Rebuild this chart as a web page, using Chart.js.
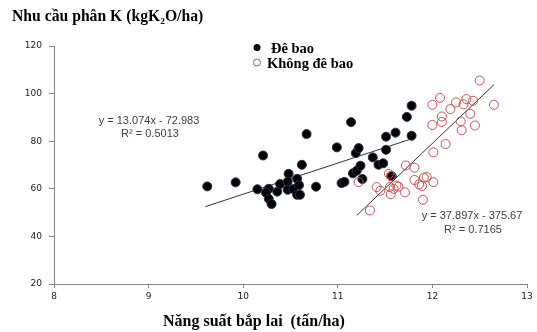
<!DOCTYPE html>
<html>
<head>
<meta charset="utf-8">
<script src="https://cdn.jsdelivr.net/npm/chart.js@4.4.0/dist/chart.umd.min.js"></script>
<style>
  html, body { margin: 0; padding: 0; background: #fff; }
</style>
</head>
<body>
<canvas id="chart" width="537" height="332"></canvas>
<script>
// Đê bao (filled black)
const deBaoX = [9.62, 9.92, 10.15, 10.21, 10.27, 10.24, 10.27, 10.30, 10.36, 10.39, 10.48, 10.47, 10.47, 10.53,
  10.57, 10.59, 10.57, 10.60, 10.62, 10.67, 10.77, 10.99, 11.04, 11.07, 11.14, 11.19, 11.22, 11.16, 11.20,
  11.24, 11.26, 11.37, 11.43, 11.48, 11.51, 11.51, 11.61, 11.57, 11.73, 11.78, 11.78];
const deBaoY = [61.0, 62.7, 59.8, 74.0, 60.0, 58.4, 55.8, 53.6, 58.8, 62.0, 66.3, 63.0, 59.6, 59.9,
  64.2, 61.5, 57.5, 57.5, 70.1, 83.0, 60.9, 77.4, 62.4, 62.9, 88.0, 75.0, 77.1, 66.5, 67.6,
  69.7, 64.1, 73.2, 70.1, 70.7, 81.9, 76.4, 83.6, 65.3, 90.2, 82.3, 94.9];

// Không đê bao (open red circles)
const khongX = [12.50, 12.00, 12.08, 12.25, 12.36, 12.33, 12.43, 12.65, 12.19, 12.10, 12.00, 12.10, 12.40,
  12.30, 12.45, 12.31, 12.14, 12.01, 11.72, 11.81, 11.54, 11.56, 11.22, 11.81, 11.91, 11.94, 11.86, 11.89,
  12.01, 11.41, 11.45, 11.56, 11.55, 11.59, 11.62, 11.64, 11.71, 11.90, 11.34];
const khongY = [105.5, 95.3, 98.2, 96.3, 97.7, 95.5, 97.0, 95.3, 93.5, 90.4, 86.8, 88.1, 91.5,
  88.3, 86.6, 84.6, 78.8, 75.3, 69.8, 68.9, 66.3, 65.4, 62.8, 63.7, 64.7, 64.9, 61.9, 61.2,
  62.8, 60.7, 59.2, 57.7, 60.7, 60.0, 61.3, 60.9, 58.5, 55.4, 50.9];

// trend line end points
const trendDeBaoX = [9.6, 11.78];
const trendDeBaoY = [52.5, 81.0];
const trendKhongX = [11.2, 12.65];
const trendKhongY = [48.8, 103.7];

const xTicks = [8, 9, 10, 11, 12, 13];
const yTicks = [20, 40, 60, 80, 100, 120];

const toPoints = (xs, ys) => xs.map((x, i) => ({ x: x, y: ys[i] }));

const textPlugin = {
  id: 'texts',
  afterDraw(chart) {
    const ctx = chart.ctx;
    ctx.save();
    ctx.fillStyle = '#000';
    ctx.textBaseline = 'alphabetic';
    ctx.textAlign = 'left';
    ctx.font = 'bold 15.7px "Liberation Serif"';
    ctx.fillText('Nhu cầu phân K (kgK₂O/ha)', 12, 21);
    ctx.font = 'bold 16px "Liberation Serif"';
    ctx.fillText('Năng suất bắp lai  (tấn/ha)', 163, 326);

    // legend
    ctx.font = 'bold 14.5px "Liberation Serif"';
    ctx.beginPath();
    ctx.arc(257, 47.5, 3.5, 0, Math.PI * 2);
    ctx.fill();
    ctx.fillText('Đê bao', 271, 52.5);
    ctx.beginPath();
    ctx.strokeStyle = '#c0504d';
    ctx.lineWidth = 1;
    ctx.arc(257, 62.5, 3.5, 0, Math.PI * 2);
    ctx.stroke();
    ctx.fillText('Không đê bao', 267, 67.5);

    // equations
    ctx.fillStyle = '#404040';
    ctx.font = '11px "Liberation Sans"';
    ctx.textAlign = 'center';
    ctx.textBaseline = 'middle';
    ctx.fillText('y = 13.074x - 72.983', 149, 120.5);
    ctx.fillText('R² = 0.5013', 150, 134);
    ctx.fillText('y = 37.897x - 375.67', 472, 216);
    ctx.fillText('R² = 0.7165', 473, 229.5);
    ctx.restore();
  }
};

new Chart(document.getElementById('chart'), {
  type: 'scatter',
  data: {
    datasets: [
      {
        label: 'Không đê bao',
        data: toPoints(khongX, khongY),
        pointRadius: 4.5,
        pointBackgroundColor: 'rgba(255,255,255,0)',
        pointBorderColor: '#c8504d',
        pointBorderWidth: 1,
        order: 0,
      },
      {
        label: 'Đê bao',
        data: toPoints(deBaoX, deBaoY),
        pointRadius: 4.5,
        pointBackgroundColor: '#000',
        pointBorderColor: '#22344d',
        pointBorderWidth: 1,
        order: 1,
      },
      {
        type: 'line',
        data: toPoints(trendDeBaoX, trendDeBaoY),
        borderColor: '#333',
        borderWidth: 1,
        pointRadius: 0,
        fill: false,
        order: 2,
      },
      {
        type: 'line',
        data: toPoints(trendKhongX, trendKhongY),
        borderColor: '#333',
        borderWidth: 1,
        pointRadius: 0,
        fill: false,
        order: 2,
      },
    ],
  },
  options: {
    responsive: false,
    animation: false,
    layout: { padding: { top: 46, right: 10, left: 0, bottom: 0 } },
    plugins: {
      legend: { display: false },
      tooltip: { enabled: false },
    },
    scales: {
      x: {
        type: 'linear',
        min: 8,
        max: 13,
        afterBuildTicks: s => { s.ticks = xTicks.map(v => ({ value: v })); },
        afterFit: s => { s.height = 48; },
        grid: { drawOnChartArea: false, tickLength: 4, color: '#868686' },
        border: { color: '#868686' },
        ticks: { color: '#222', padding: 3, font: { family: 'DejaVu Sans', size: 9 } },
      },
      y: {
        min: 20,
        max: 120,
        afterBuildTicks: s => { s.ticks = yTicks.map(v => ({ value: v })); },
        afterFit: s => { s.width = 54; },
        grid: { drawOnChartArea: false, tickLength: 5, color: '#868686' },
        border: { color: '#868686' },
        ticks: { color: '#222', padding: 7, font: { family: 'DejaVu Sans', size: 9 } },
      },
    },
  },
  plugins: [textPlugin],
});
</script>
</body>
</html>
